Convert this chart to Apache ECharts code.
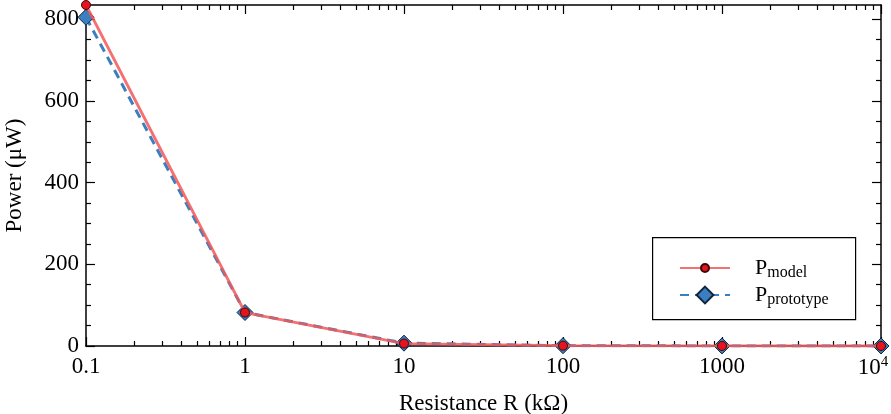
<!DOCTYPE html>
<html>
<head>
<meta charset="utf-8">
<style>
  html, body { margin: 0; padding: 0; background: #fff; }
  #chart { width: 891px; height: 414px; }
</style>
<script src="https://cdn.jsdelivr.net/npm/echarts@6/dist/echarts.min.js"></script>
</head>
<body>
<div id="chart"></div>
<script>
// Load resistance (kΩ) and harvested power (µW)
const resistance = [0.1, 1, 10, 100, 1000, 10000];
const powerModel = [835, 82, 6, 0.7, 0.07, 0.007];
const powerPrototype = [805, 82, 7, 0.8, 0.08, 0.008];

const xMajorTicks = [0.1, 1, 10, 100, 1000, 10000];
const xTickLabels = ['0.1', '1', '10', '100', '1000', '10^4'];
const yTickValues = [0, 200, 400, 600, 800];

// minor ticks of the log axis: 2..9 times each decade
const xMinorTicks = [];
for (let d = 0.1; d < 10000; d *= 10) {
  for (let k = 2; k <= 9; k++) xMinorTicks.push(+(d * k).toPrecision(6));
}

const FONT = '"Liberation Serif", "DejaVu Serif", serif';
const X_MIN = 0.1, X_MAX = 10000, Y_MIN = 0, Y_MAX = 835;

function xLabel(v) {
  const i = xMajorTicks.findIndex(t => Math.abs(Math.log10(t) - Math.log10(v)) < 1e-6);
  if (i < 0) return '';
  const s = xTickLabels[i];
  if (s.indexOf('^') > 0) {
    const [b, e] = s.split('^');
    return '{n|' + b + '}{sup|' + e + '}';
  }
  return '{n|' + s + '}';
}

function logAxis(pos, show) {
  return {
    type: 'log', logBase: 10, min: X_MIN, max: X_MAX, position: pos,
    axisLine: { show: show, onZero: false, lineStyle: { color: '#000', width: 1.5 } },
    splitLine: { show: false },
    axisLabel: { show: false },
    axisTick: { show: false }
  };
}

const xAxes = [
  Object.assign(logAxis('bottom', true), {
    name: 'Resistance R (kΩ)', nameLocation: 'middle', nameGap: 46,
    nameTextStyle: { fontFamily: FONT, fontSize: 23, color: '#000' },
    axisTick: { show: true, inside: true, length: 9, customValues: xMajorTicks, lineStyle: { color: '#000', width: 1.2 } },
    axisLabel: {
      show: true, customValues: xMajorTicks, margin: 9, formatter: xLabel,
      rich: {
        n: { fontFamily: FONT, fontSize: 23, color: '#000' },
        // trailing room keeps the exponent label centred slightly left of its tick
        sup: { fontFamily: FONT, fontSize: 15, color: '#000', padding: [0, 16, 11, 0] }
      }
    }
  }),
  Object.assign(logAxis('bottom', false), {
    axisTick: { show: true, inside: true, length: 5, customValues: xMinorTicks, lineStyle: { color: '#000', width: 1.2 } }
  }),
  Object.assign(logAxis('top', true), {
    axisTick: { show: true, inside: true, length: 9, customValues: xMajorTicks, lineStyle: { color: '#000', width: 1.2 } }
  }),
  Object.assign(logAxis('top', false), {
    axisTick: { show: true, inside: true, length: 5, customValues: xMinorTicks, lineStyle: { color: '#000', width: 1.2 } }
  })
];

function valAxis(pos, withLabels) {
  return {
    type: 'value', min: Y_MIN, max: Y_MAX, interval: 200, position: pos,
    axisLine: { show: true, onZero: false, lineStyle: { color: '#000', width: 1.5 } },
    splitLine: { show: false },
    axisTick: { show: true, inside: true, length: 9, customValues: yTickValues, lineStyle: { color: '#000', width: 1.2 } },
    minorTick: { show: true, splitNumber: 4, length: 5, lineStyle: { color: '#000', width: 1.2 } },
    axisLabel: withLabels ? {
      show: true, customValues: yTickValues, margin: 7,
      fontFamily: FONT, fontSize: 23, color: '#000'
    } : { show: false },
    name: withLabels ? 'Power (μW)' : '',
    nameLocation: 'middle', nameGap: 60, nameRotate: 90,
    nameTextStyle: { fontFamily: FONT, fontSize: 23, color: '#000' }
  };
}

function legendBlock(name, top, itemHeight) {
  return {
    orient: 'vertical', left: 679, top: top,
    padding: 0,
    itemWidth: 50, itemHeight: itemHeight,
    data: [name],
    z: 6,
    formatter: function (n) {
      return '{p|P}{s|' + n.slice(1) + '}';
    },
    textStyle: {
      rich: {
        p: { fontFamily: FONT, fontSize: 22, color: '#000', padding: [0, 0, 0, 20] },
        s: { fontFamily: FONT, fontSize: 16, color: '#000', padding: [10, 0, 0, 0] }
      }
    }
  };
}

const chart = echarts.init(document.getElementById('chart'), null, { renderer: 'canvas' });

chart.setOption({
  animation: false,
  backgroundColor: '#fff',
  grid: { left: 86, right: 10, top: 5, bottom: 68, containLabel: false, outerBoundsMode: 'none' },
  xAxis: xAxes,
  yAxis: [valAxis('left', true), valAxis('right', false)],
  graphic: [{
    type: 'rect', left: 652, top: 237, z: 5,
    shape: { width: 203, height: 82 },
    style: { fill: '#fff', stroke: '#000', lineWidth: 1.2 }
  }],
  legend: [
    legendBlock('Pmodel', 257, 10),
    legendBlock('Pprototype', 284, 21)
  ],
  series: [
    {
      name: 'Pprototype', type: 'line', xAxisIndex: 0, yAxisIndex: 0,
      data: resistance.map((r, i) => [r, powerPrototype[i]]),
      symbol: 'diamond', symbolSize: 16,
      itemStyle: { color: '#3b7fc0', borderColor: '#10253f', borderWidth: 1 },
      lineStyle: { color: '#3b7fc0', width: 3, type: [9, 6] },
      z: 2
    },
    {
      name: 'Pmodel', type: 'line', xAxisIndex: 0, yAxisIndex: 0,
      data: resistance.map((r, i) => [r, powerModel[i]]),
      symbol: 'circle', symbolSize: 9,
      itemStyle: { color: '#e5141e', borderColor: '#3a0a0a', borderWidth: 1 },
      lineStyle: { color: '#f25858', width: 2.8, opacity: 0.85 },
      z: 3
    }
  ]
});
</script>
</body>
</html>
